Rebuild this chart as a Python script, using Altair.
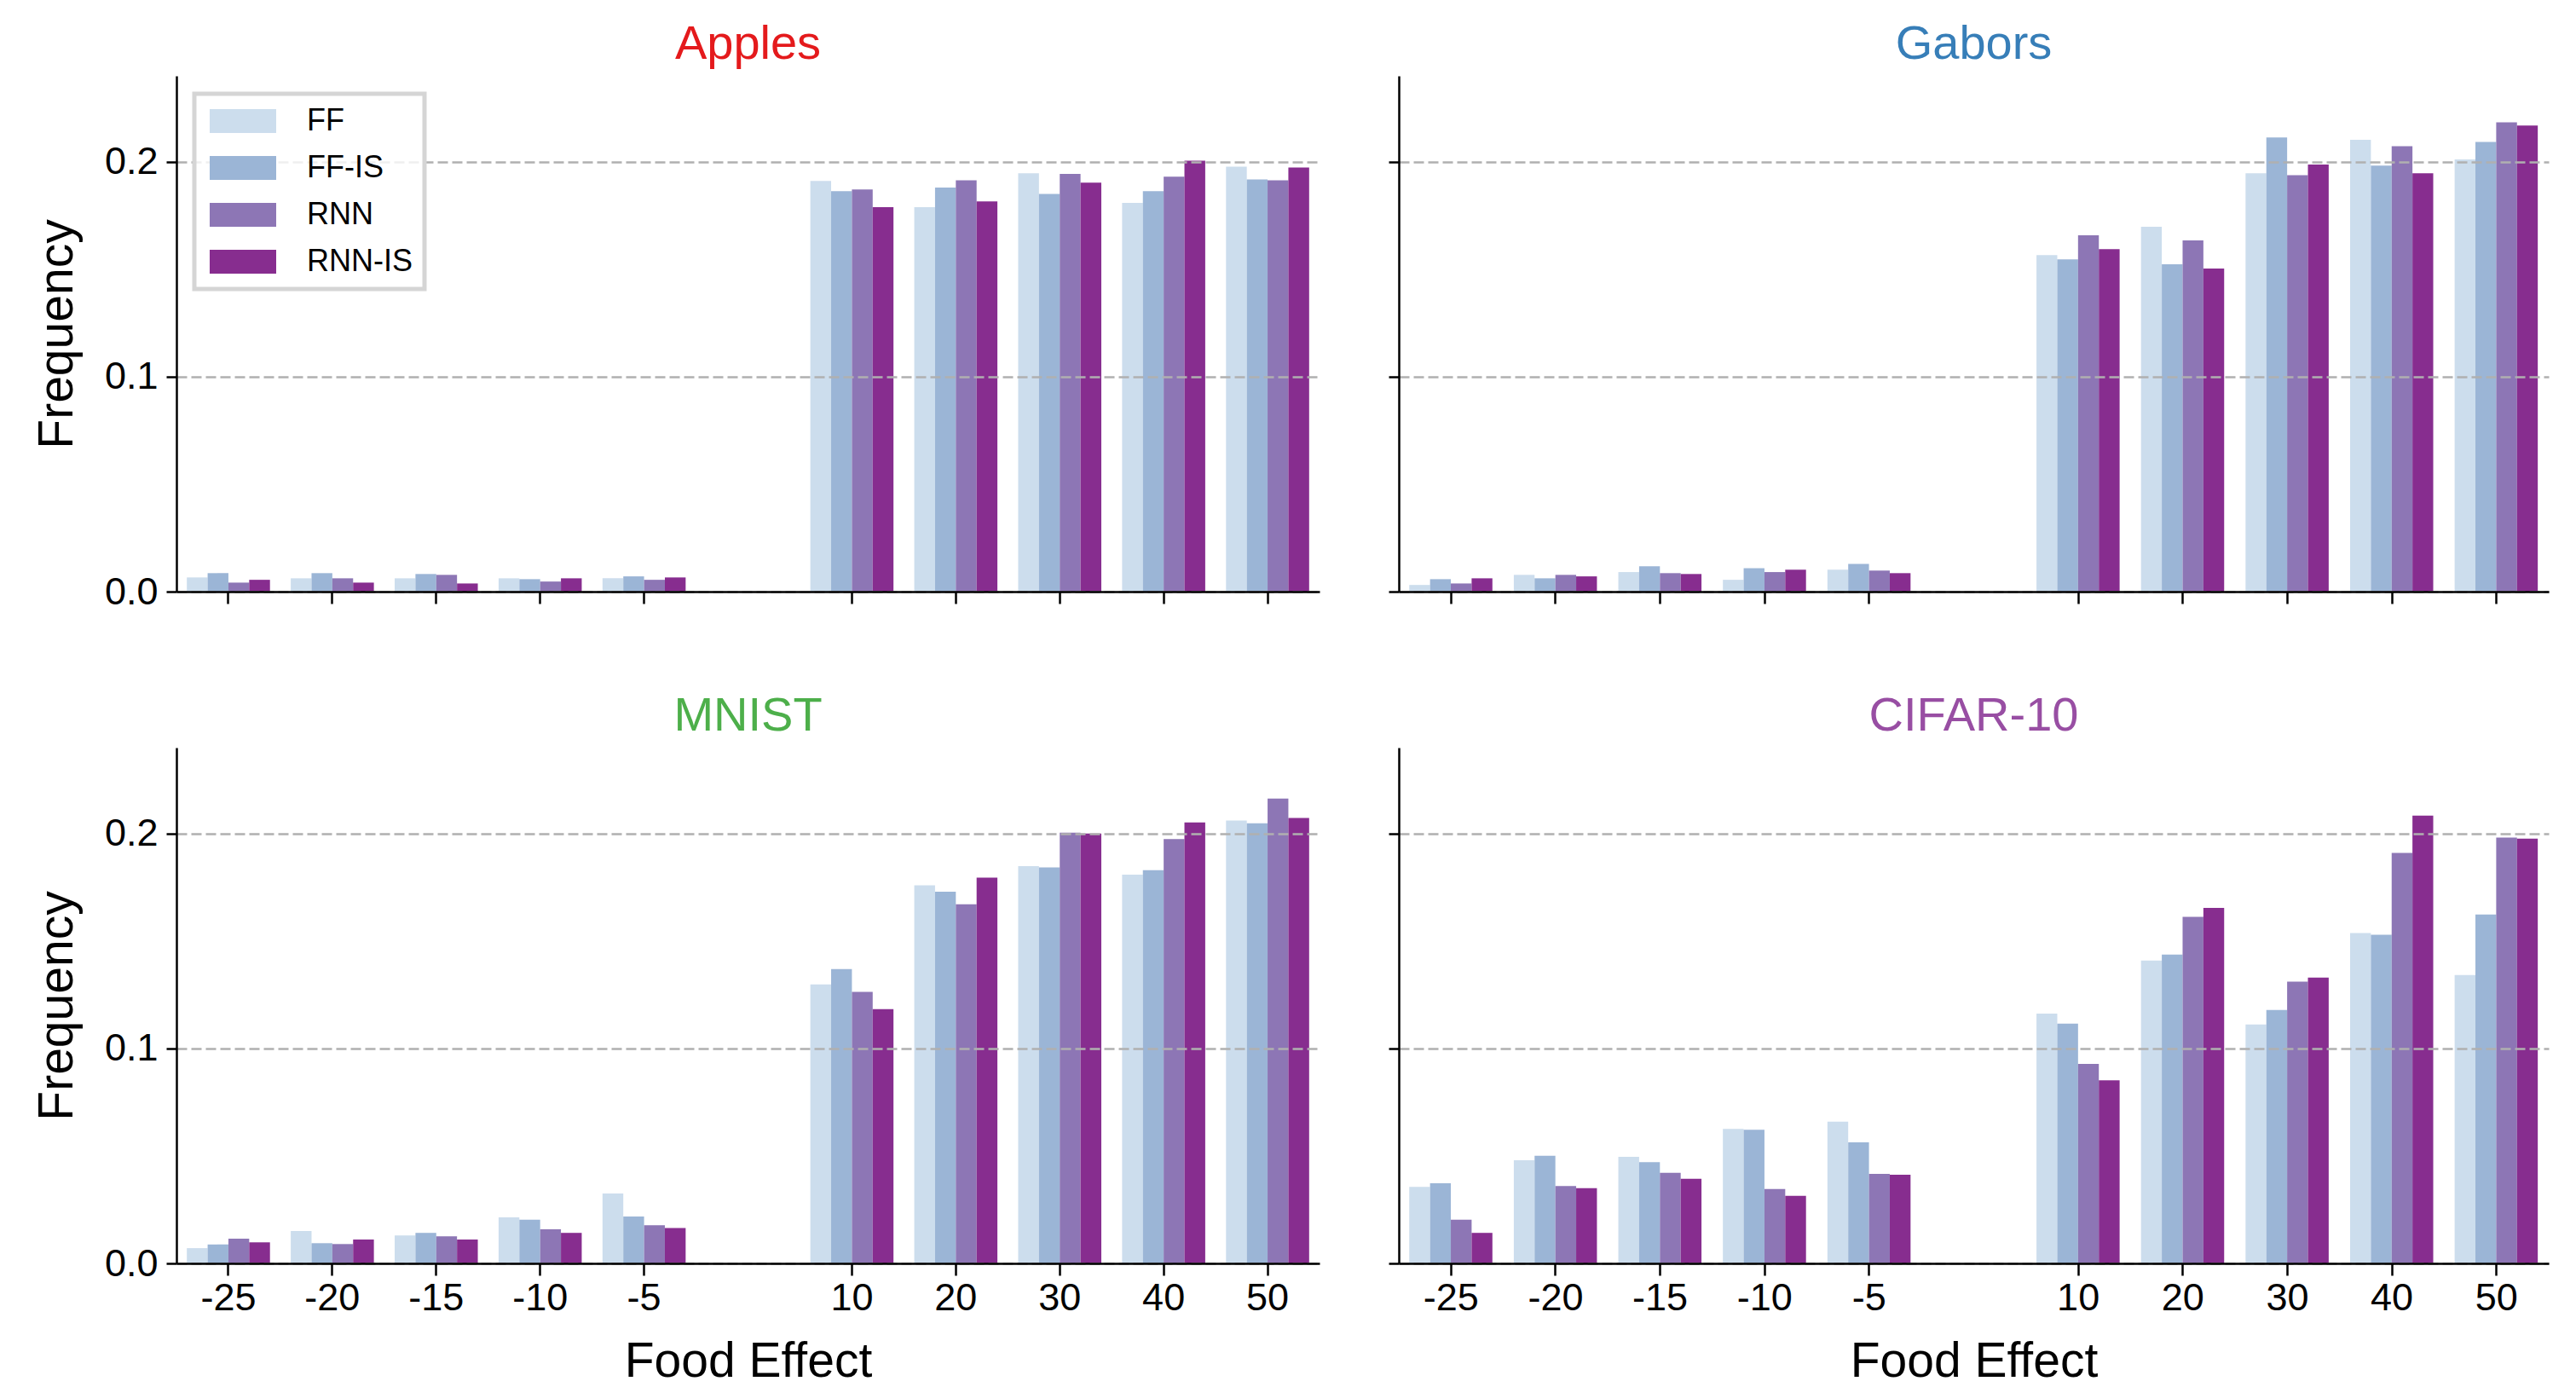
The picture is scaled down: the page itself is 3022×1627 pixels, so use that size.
import altair as alt
import pandas as pd

food_effect = ["-25", "-20", "-15", "-10", "-5", "0", "10", "20", "30", "40", "50"]
tick_labels = ["-25", "-20", "-15", "-10", "-5", "10", "20", "30", "40", "50"]
models = ["FF", "FF-IS", "RNN", "RNN-IS"]
model_colors = ["#ccdded", "#9bb5d6", "#8d76b5", "#872d8f"]

datasets = ["Apples", "Gabors", "MNIST", "CIFAR-10"]
title_colors = ["#e41a1c", "#377eb8", "#4daf4a", "#984ea3"]

# frequencies per model, in food_effect order (the "0" slot is empty)
apples_ff     = [0.0066, 0.0062, 0.0062, 0.0062, 0.0062, 0.0, 0.1911, 0.1789, 0.1947, 0.1809, 0.1978]
apples_ff_is  = [0.0086, 0.0086, 0.0082, 0.0058, 0.0071, 0.0, 0.1863, 0.1880, 0.1851, 0.1863, 0.1918]
apples_rnn    = [0.0042, 0.0062, 0.0078, 0.0047, 0.0055, 0.0, 0.1871, 0.1914, 0.1944, 0.1931, 0.1914]
apples_rnn_is = [0.0055, 0.0042, 0.0038, 0.0062, 0.0066, 0.0, 0.1789, 0.1816, 0.1903, 0.2005, 0.1974]

gabors_ff     = [0.0031, 0.0078, 0.0091, 0.0055, 0.0102, 0.0, 0.1566, 0.1698, 0.1947, 0.2102, 0.2011]
gabors_ff_is  = [0.0058, 0.0062, 0.0118, 0.0109, 0.0129, 0.0, 0.1546, 0.1523, 0.2113, 0.1982, 0.2093]
gabors_rnn    = [0.0038, 0.0078, 0.0086, 0.0091, 0.0098, 0.0, 0.1658, 0.1634, 0.1938, 0.2073, 0.2184]
gabors_rnn_is = [0.0062, 0.0071, 0.0082, 0.0102, 0.0086, 0.0, 0.1594, 0.1503, 0.1987, 0.1947, 0.2169]

mnist_ff     = [0.0071, 0.0151, 0.0130, 0.0214, 0.0325, 0.0, 0.1298, 0.1759, 0.1849, 0.1809, 0.2061]
mnist_ff_is  = [0.0088, 0.0094, 0.0142, 0.0203, 0.0218, 0.0, 0.1370, 0.1730, 0.1843, 0.1830, 0.2048]
mnist_rnn    = [0.0115, 0.0090, 0.0126, 0.0159, 0.0178, 0.0, 0.1263, 0.1671, 0.2004, 0.1975, 0.2163]
mnist_rnn_is = [0.0098, 0.0111, 0.0111, 0.0142, 0.0165, 0.0, 0.1183, 0.1795, 0.2000, 0.2052, 0.2073]

cifar_ff     = [0.0356, 0.0480, 0.0496, 0.0626, 0.0660, 0.0, 0.1162, 0.1409, 0.1112, 0.1537, 0.1342]
cifar_ff_is  = [0.0373, 0.0501, 0.0471, 0.0622, 0.0563, 0.0, 0.1116, 0.1437, 0.1179, 0.1529, 0.1623]
cifar_rnn    = [0.0203, 0.0360, 0.0421, 0.0346, 0.0417, 0.0, 0.0928, 0.1613, 0.1311, 0.1910, 0.1981]
cifar_rnn_is = [0.0142, 0.0350, 0.0394, 0.0314, 0.0413, 0.0, 0.0852, 0.1654, 0.1330, 0.2084, 0.1977]

series = {
    "Apples": [apples_ff, apples_ff_is, apples_rnn, apples_rnn_is],
    "Gabors": [gabors_ff, gabors_ff_is, gabors_rnn, gabors_rnn_is],
    "MNIST": [mnist_ff, mnist_ff_is, mnist_rnn, mnist_rnn_is],
    "CIFAR-10": [cifar_ff, cifar_ff_is, cifar_rnn, cifar_rnn_is],
}

rows = []
for ds in datasets:
    for m, vals in zip(models, series[ds]):
        for f, v in zip(food_effect, vals):
            rows.append({"dataset": ds, "food": f, "model": m, "freq": v})
df = pd.DataFrame(rows)

FONT = "Liberation Sans"
H = 605


def panel(ds, tcolor, bottom, left, legend):
    d = df[df.dataset == ds]
    x_axis = alt.Axis(
        values=tick_labels, labels=bottom, title="Food Effect" if bottom else None,
        labelAngle=0, labelFontSize=45, labelPadding=4, titleFontSize=57, titlePadding=24,
        tickSize=14, tickWidth=2.5, domainWidth=2.5, domainColor="black", tickColor="black",
        labelColor="black", titleColor="black", titleFontWeight="normal", grid=False, zindex=2,
        labelFont=FONT, titleFont=FONT,
    )
    y_axis = alt.Axis(
        values=[0, 0.1, 0.2], format=".1f", labels=left, title="Frequency" if left else None,
        labelFontSize=45, labelPadding=10, titleFontSize=57, titlePadding=26,
        tickSize=12, tickWidth=2.5, domainWidth=2.5, domainColor="black", tickColor="black",
        labelColor="black", titleColor="black", titleFontWeight="normal",
        grid=True, gridDash=[12, 5], gridColor="#b0b0b0", gridWidth=2.5, zindex=1,
        labelFont=FONT, titleFont=FONT,
    )
    return alt.Chart(d).mark_bar().encode(
        x=alt.X("food:N", sort=food_effect,
                scale=alt.Scale(paddingInner=0.2, paddingOuter=0.1), axis=x_axis),
        xOffset=alt.XOffset("model:N", sort=models,
                            scale=alt.Scale(paddingInner=0, paddingOuter=0)),
        y=alt.Y("freq:Q", scale=alt.Scale(domain=[0, 0.24], nice=False), axis=y_axis),
        color=alt.Color("model:N", sort=models,
                        scale=alt.Scale(domain=models, range=model_colors), legend=legend),
    ).properties(
        width=1341 if left else 1349, height=H,
        title=alt.TitleParams(ds, color=tcolor, fontSize=56, font=FONT, fontWeight="normal",
                              anchor="middle", offset=8),
    )


legend = alt.Legend(
    orient="top-left", title=None, offset=21,
    symbolType="M-2.786,-1H2.786V1H-2.786Z", symbolSize=784, symbolOffset=25,
    symbolStrokeWidth=0, symbolOpacity=1,
    labelOffset=57, labelFontSize=36, labelFont=FONT, labelColor="black",
    rowPadding=19, padding=14,
    fillColor="rgba(255,255,255,0.8)", zindex=3,
)

top = alt.hconcat(
    panel("Apples", title_colors[0], False, True, legend),
    panel("Gabors", title_colors[1], False, False, None),
    spacing=79,
)
bottom = alt.hconcat(
    panel("MNIST", title_colors[2], True, True, None),
    panel("CIFAR-10", title_colors[3], True, False, None),
    spacing=79,
)

chart = alt.vconcat(top, bottom, spacing=95).resolve_scale(color="independent").configure(
    padding={"left": 30, "top": 16, "right": 10, "bottom": 5},
).configure_view(stroke=None).configure_legend(
    strokeColor="#d5d5d5", strokeWidth=5, cornerRadius=0,
)

chart.save("out.html", embed_options={"renderer": "svg", "actions": False})
